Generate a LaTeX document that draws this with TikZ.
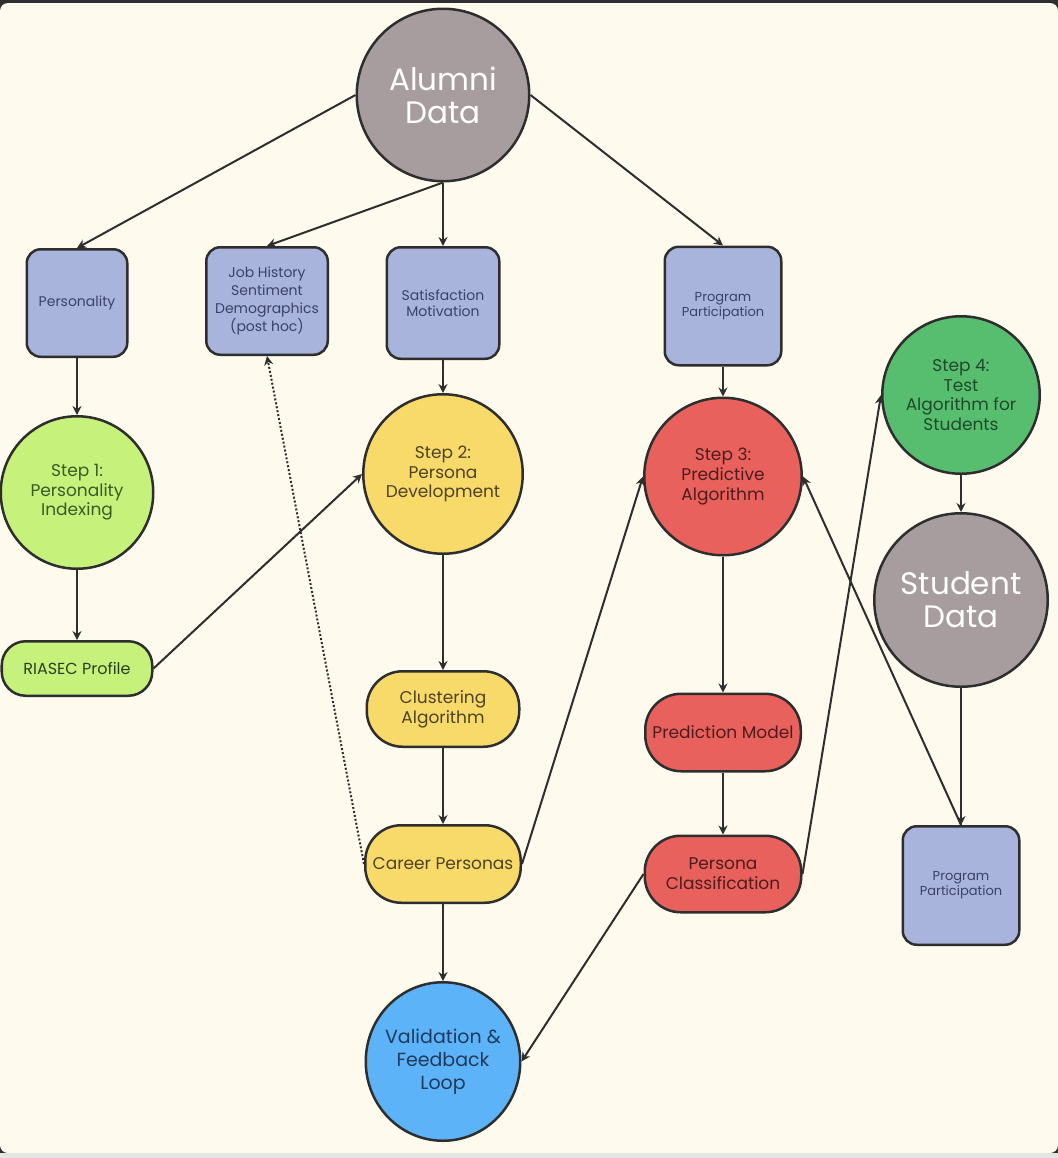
\documentclass[tikz,border=0pt]{standalone}
\usepackage{fontspec}
\setmainfont{Poppins}
\usetikzlibrary{arrows.meta,positioning,shapes.geometric}
\definecolor{bgcream}{HTML}{FEFBEE}
\definecolor{framedk}{HTML}{2F2F2F}
\definecolor{framelt}{HTML}{E4E4E2}
\definecolor{edgec}{HTML}{2E2E2E}
\definecolor{datagray}{HTML}{A89D9E}
\definecolor{inblue}{HTML}{A8B4DC}
\definecolor{inbluetx}{HTML}{3A4268}
\definecolor{limef}{HTML}{C6F27C}
\definecolor{limetx}{HTML}{3B5A28}
\definecolor{yelf}{HTML}{F8DA6A}
\definecolor{yeltx}{HTML}{4E4326}
\definecolor{redf}{HTML}{E8615C}
\definecolor{redtx}{HTML}{4E1C1C}
\definecolor{grnf}{HTML}{58BE6F}
\definecolor{grntx}{HTML}{1E4A2A}
\definecolor{bluef}{HTML}{5DB3F7}
\definecolor{bluetx}{HTML}{1F3A5C}

\begin{document}
\begin{tikzpicture}[
  x=0.5pt, y=-0.5pt,
  >={Stealth[length=4.5pt,width=4.5pt]},
  base/.style={draw=edgec, line width=1.25pt, align=center, inner sep=1pt},
  datac/.style={base, circle, fill=datagray, text=white, minimum size=#1,
                font=\fontsize{15.5}{16.5}\selectfont},
  inbox/.style={base, rectangle, rounded corners=7pt, fill=inblue, text=inbluetx,
                font=\fontsize{7}{9}\selectfont},
  stepc/.style={base, circle, minimum size=#1, font=\fontsize{8.5}{9.8}\selectfont},
  pill/.style={base, rectangle, rounded corners=18pt, minimum width=77.75pt,
               minimum height=38.75pt, font=\fontsize{8.5}{10}\selectfont},
  flow/.style={->, draw=edgec, line width=1pt},
]

% ---- page ----
\useasboundingbox (0,0) rectangle (1058,1158);
\fill[framedk] (0,0) rectangle (1058,1158);
\fill[bgcream, rounded corners=4pt] (0,3) rectangle (1058,1153);
\fill[framelt] (0,1153) rectangle (1058,1158);

% ---- alumni source and its inputs ----
\node[datac=86.25pt] (alumni) at (443,95) {Alumni\\Data};
\node[inbox, minimum width=50.25pt, minimum height=53.75pt] (persin) at (77,303) {Personality};
\node[inbox, minimum width=60.75pt, minimum height=53.75pt] (jobin) at (267,301)
  {Job History\\Sentiment\\Demographics\\(post hoc)};
\node[inbox, minimum width=56.25pt, minimum height=55.75pt,
      font=\fontsize{7}{8}\selectfont] (satin) at (443,303) {Satisfaction\\Motivation};
\node[inbox, minimum width=58.25pt, minimum height=59.25pt,
      font=\fontsize{6.5}{7.5}\selectfont] (progin) at (723,306) {Program\\Participation};

% ---- step 1 ----
\node[stepc=76.25pt, fill=limef, text=limetx, below=28.5pt of persin] (step1)
  {Step 1:\\Personality\\Indexing};
\node[pill, fill=limef, text=limetx!70!black, minimum width=75.25pt, minimum height=27.25pt,
      rounded corners=12pt, font=\fontsize{8}{9}\selectfont, below=35pt of step1] (riasec)
  {RIASEC Profile};

% ---- step 2 ----
\node[stepc=79.75pt, fill=yelf, text=yeltx, below=16.5pt of satin] (step2)
  {Step 2:\\Persona\\Development};
\node[pill, fill=yelf, text=yeltx, minimum width=76.25pt, minimum height=37.75pt,
      below=57.5pt of step2] (clust) {Clustering\\Algorithm};
\node[pill, fill=yelf, text=yeltx, below=38pt of clust] (career) {Career Personas};
\node[base, ellipse, fill=bluef, text=bluetx, minimum width=77.25pt, minimum height=79.25pt,
      inner xsep=-5pt, font=\fontsize{9.5}{11.5}\selectfont, below=38.5pt of career] (valid)
  {Validation \&\\Feedback\\Loop};

% ---- step 3 ----
\node[stepc=78.75pt, fill=redf, text=redtx, below=15pt of progin] (step3)
  {Step 3:\\Predictive\\Algorithm};
\node[pill, fill=redf, text=redtx, below=68pt of step3] (predm) {Prediction Model};
\node[pill, fill=redf, text=redtx, minimum width=78.25pt, minimum height=38.25pt,
      below=31pt of predm] (pclass) {Persona\\Classification};

% ---- step 4 ----
\node[stepc=78.75pt, fill=grnf, text=grntx] (step4) at (961,395)
  {Step 4:\\Test\\Algorithm for\\Students};
\node[datac=86.75pt, below=18.5pt of step4] (student) {Student\\Data};
\node[inbox, minimum width=58.25pt, minimum height=59.25pt,
      font=\fontsize{6.5}{7.5}\selectfont, below=68.5pt of student] (progout)
  {Program\\Participation};

% ---- connectors ----
\draw[flow] (alumni.west) -- (persin.north);
\draw[flow] (alumni.south) -- (jobin.north);
\draw[flow] (alumni.south) -- (satin.north);
\draw[flow] (alumni.east) -- (progin.north);
\draw[flow] (persin) -- (step1);
\draw[flow] (step1) -- (riasec);
\draw[flow] (riasec.east) -- (step2.west);
\draw[flow] (satin) -- (step2);
\draw[flow] (step2) -- (clust);
\draw[flow] (clust) -- (career);
\draw[flow] (career) -- (valid);
\draw[flow, densely dotted] (career.west) -- (jobin.south);
\draw[flow] (career.east) -- (step3.west);
\draw[flow] (progin) -- (step3);
\draw[flow] (step3) -- (predm);
\draw[flow] (predm) -- (pclass);
\draw[flow] (pclass.west) -- (valid.east);
\draw[flow] (pclass.east) -- (step4.west);
\draw[flow] (step4) -- (student);
\draw[flow] (student) -- (progout);
\draw[flow] (progout.north) -- (step3.east);
\end{tikzpicture}
\end{document}
